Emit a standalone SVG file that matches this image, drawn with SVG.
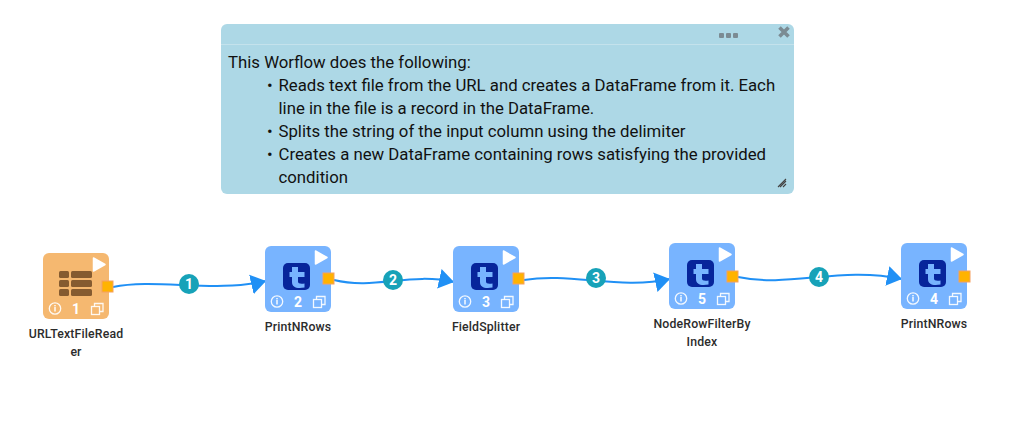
<svg xmlns="http://www.w3.org/2000/svg" width="1032" height="421" viewBox="0 0 1032 421">
<style>
text{font-family:Roboto,"Liberation Sans",sans-serif}
.note{font-size:16.77px;fill:#111}
.lbl{font-size:12.3px;font-weight:500;fill:#2c2c2c;text-anchor:middle;letter-spacing:.15px}
.num{font-size:14px;font-weight:700;fill:#fff;text-anchor:middle}
.edge{fill:none;stroke:#2090f5;stroke-width:2}
.badge{fill:#17a2b8}
.port{fill:#ffb300;stroke:#f5a060;stroke-width:1}
.ic{fill:none;stroke:#fff;stroke-width:1.3;opacity:.9}
</style>
<defs>
<marker id="arr" markerUnits="userSpaceOnUse" markerWidth="16" markerHeight="22" refX="15" refY="11" orient="auto"><path d="M0 1L15 11L0 21Z" fill="#2090f5"/></marker>
<g id="chrome">
<path d="M50.500 5L62 11.500L50.500 18Z" fill="#fff" stroke="#fff" stroke-width="1.500" stroke-linejoin="round"/>
<circle cx="12" cy="55.500" r="5.700" class="ic"/><rect x="11.300" y="54" width="1.400" height="4.500" fill="#fff"/><rect x="11.300" y="52" width="1.400" height="1.400" fill="#fff"/>
<rect x="48.500" y="53.500" width="8" height="8" class="ic"/><path d="M51.500 53.500V50.500H60V58.500H56.500" class="ic"/>
</g>
<g id="tile">
<rect width="66" height="66" rx="6" fill="#78b4ff"/>
<rect x="18" y="17" width="27" height="27" rx="5" fill="#07259b"/>
<path d="M27 21H33V26H39.500V31H33V35.500C33 37.500 35 38 39.500 37.500V41.500C32 42.800 27 41.500 27 36V31H24.500V26H27Z" fill="#78b4ff"/>
<use href="#chrome"/>
</g>
</defs>
<g id="connectors">
<path class="edge" marker-end="url(#arr)" d="M113 287C155 278 215 293 266 281"/>
<path class="edge" marker-end="url(#arr)" d="M334 280C375 290 410 272 454 282"/>
<path class="edge" marker-end="url(#arr)" d="M524 280C570 272 620 290 670 279"/>
<path class="edge" marker-end="url(#arr)" d="M738 277C790 288 840 266 902 279"/>
<g id="edge-badges">
<circle class="badge" cx="189" cy="284" r="10"/><text class="num" x="189" y="289">1</text>
<circle class="badge" cx="393" cy="280" r="10"/><text class="num" x="393" y="285">2</text>
<circle class="badge" cx="596" cy="278" r="10"/><text class="num" x="596" y="283">3</text>
<circle class="badge" cx="819" cy="277" r="10"/><text class="num" x="819" y="282">4</text>
</g>
</g>
<g id="note">
<rect x="221" y="24" width="573" height="170" rx="6" fill="#add8e6"/>
<line x1="221" y1="44.500" x2="794" y2="44.500" stroke="#c4e2ec" stroke-width="1"/>
<g fill="#7b8b93"><rect x="719" y="33" width="5" height="5" rx="1"/><rect x="726" y="33" width="5" height="5" rx="1"/><rect x="733" y="33" width="5" height="5" rx="1"/></g>
<path d="M779.500 27.500L788.500 36.500M788.500 27.500L779.500 36.500" stroke="#7b8b93" stroke-width="3.600"/>
<path d="M778 187L786 179M780 187L786 181M783 187L786 184" stroke="#444" stroke-width="1.100"/>
<text class="note" x="228" y="67.500">This Worflow does the following:</text>
<text class="note" x="267" y="90.500">•</text><text class="note" x="278.500" y="90.500">Reads text file from the URL and creates a DataFrame from it. Each</text>
<text class="note" x="278.500" y="114">line in the file is a record in the DataFrame.</text>
<text class="note" x="267" y="137">•</text><text class="note" x="278.500" y="137">Splits the string of the input column using the delimiter</text>
<text class="note" x="267" y="160">•</text><text class="note" x="278.500" y="160">Creates a new DataFrame containing rows satisfying the provided</text>
<text class="note" x="278.500" y="183">condition</text>
</g>
<g id="node1" transform="translate(43 253)">
<rect width="66" height="66" rx="6" fill="#f5b870"/>
<g fill="#855b30"><rect x="16" y="18" width="10" height="7" rx="1.500"/><rect x="28" y="18" width="21" height="7" rx="1.500"/><rect x="16" y="27" width="10" height="7" rx="1.500"/><rect x="28" y="27" width="21" height="7" rx="1.500"/><rect x="16" y="36" width="10" height="7" rx="1.500"/><rect x="28" y="36" width="21" height="7" rx="1.500"/></g>
<use href="#chrome"/>
<text class="num" x="33" y="61">1</text>
<rect class="port" x="59" y="28" width="11" height="11"/>
<text class="lbl" x="33" y="85">URLTextFileRead</text><text class="lbl" x="33" y="103">er</text>
</g>
<g id="node2" transform="translate(265 246)">
<use href="#tile"/><text class="num" x="33" y="61">2</text>
<rect class="port" x="58" y="27" width="11" height="11"/>
<text class="lbl" x="33" y="85">PrintNRows</text>
</g>
<g id="node3" transform="translate(453 246)">
<use href="#tile"/><text class="num" x="33" y="61">3</text>
<rect class="port" x="60" y="27" width="11" height="11"/>
<text class="lbl" x="33" y="85">FieldSplitter</text>
</g>
<g id="node5" transform="translate(669 243)">
<use href="#tile"/><text class="num" x="33" y="61">5</text>
<rect class="port" x="58" y="28" width="11" height="11"/>
<text class="lbl" x="33" y="85">NodeRowFilterBy</text><text class="lbl" x="33" y="103">Index</text>
</g>
<g id="node4" transform="translate(901 243)">
<use href="#tile"/><text class="num" x="33" y="61">4</text>
<rect class="port" x="58" y="28" width="11" height="11"/>
<text class="lbl" x="33" y="85">PrintNRows</text>
</g>
</svg>
